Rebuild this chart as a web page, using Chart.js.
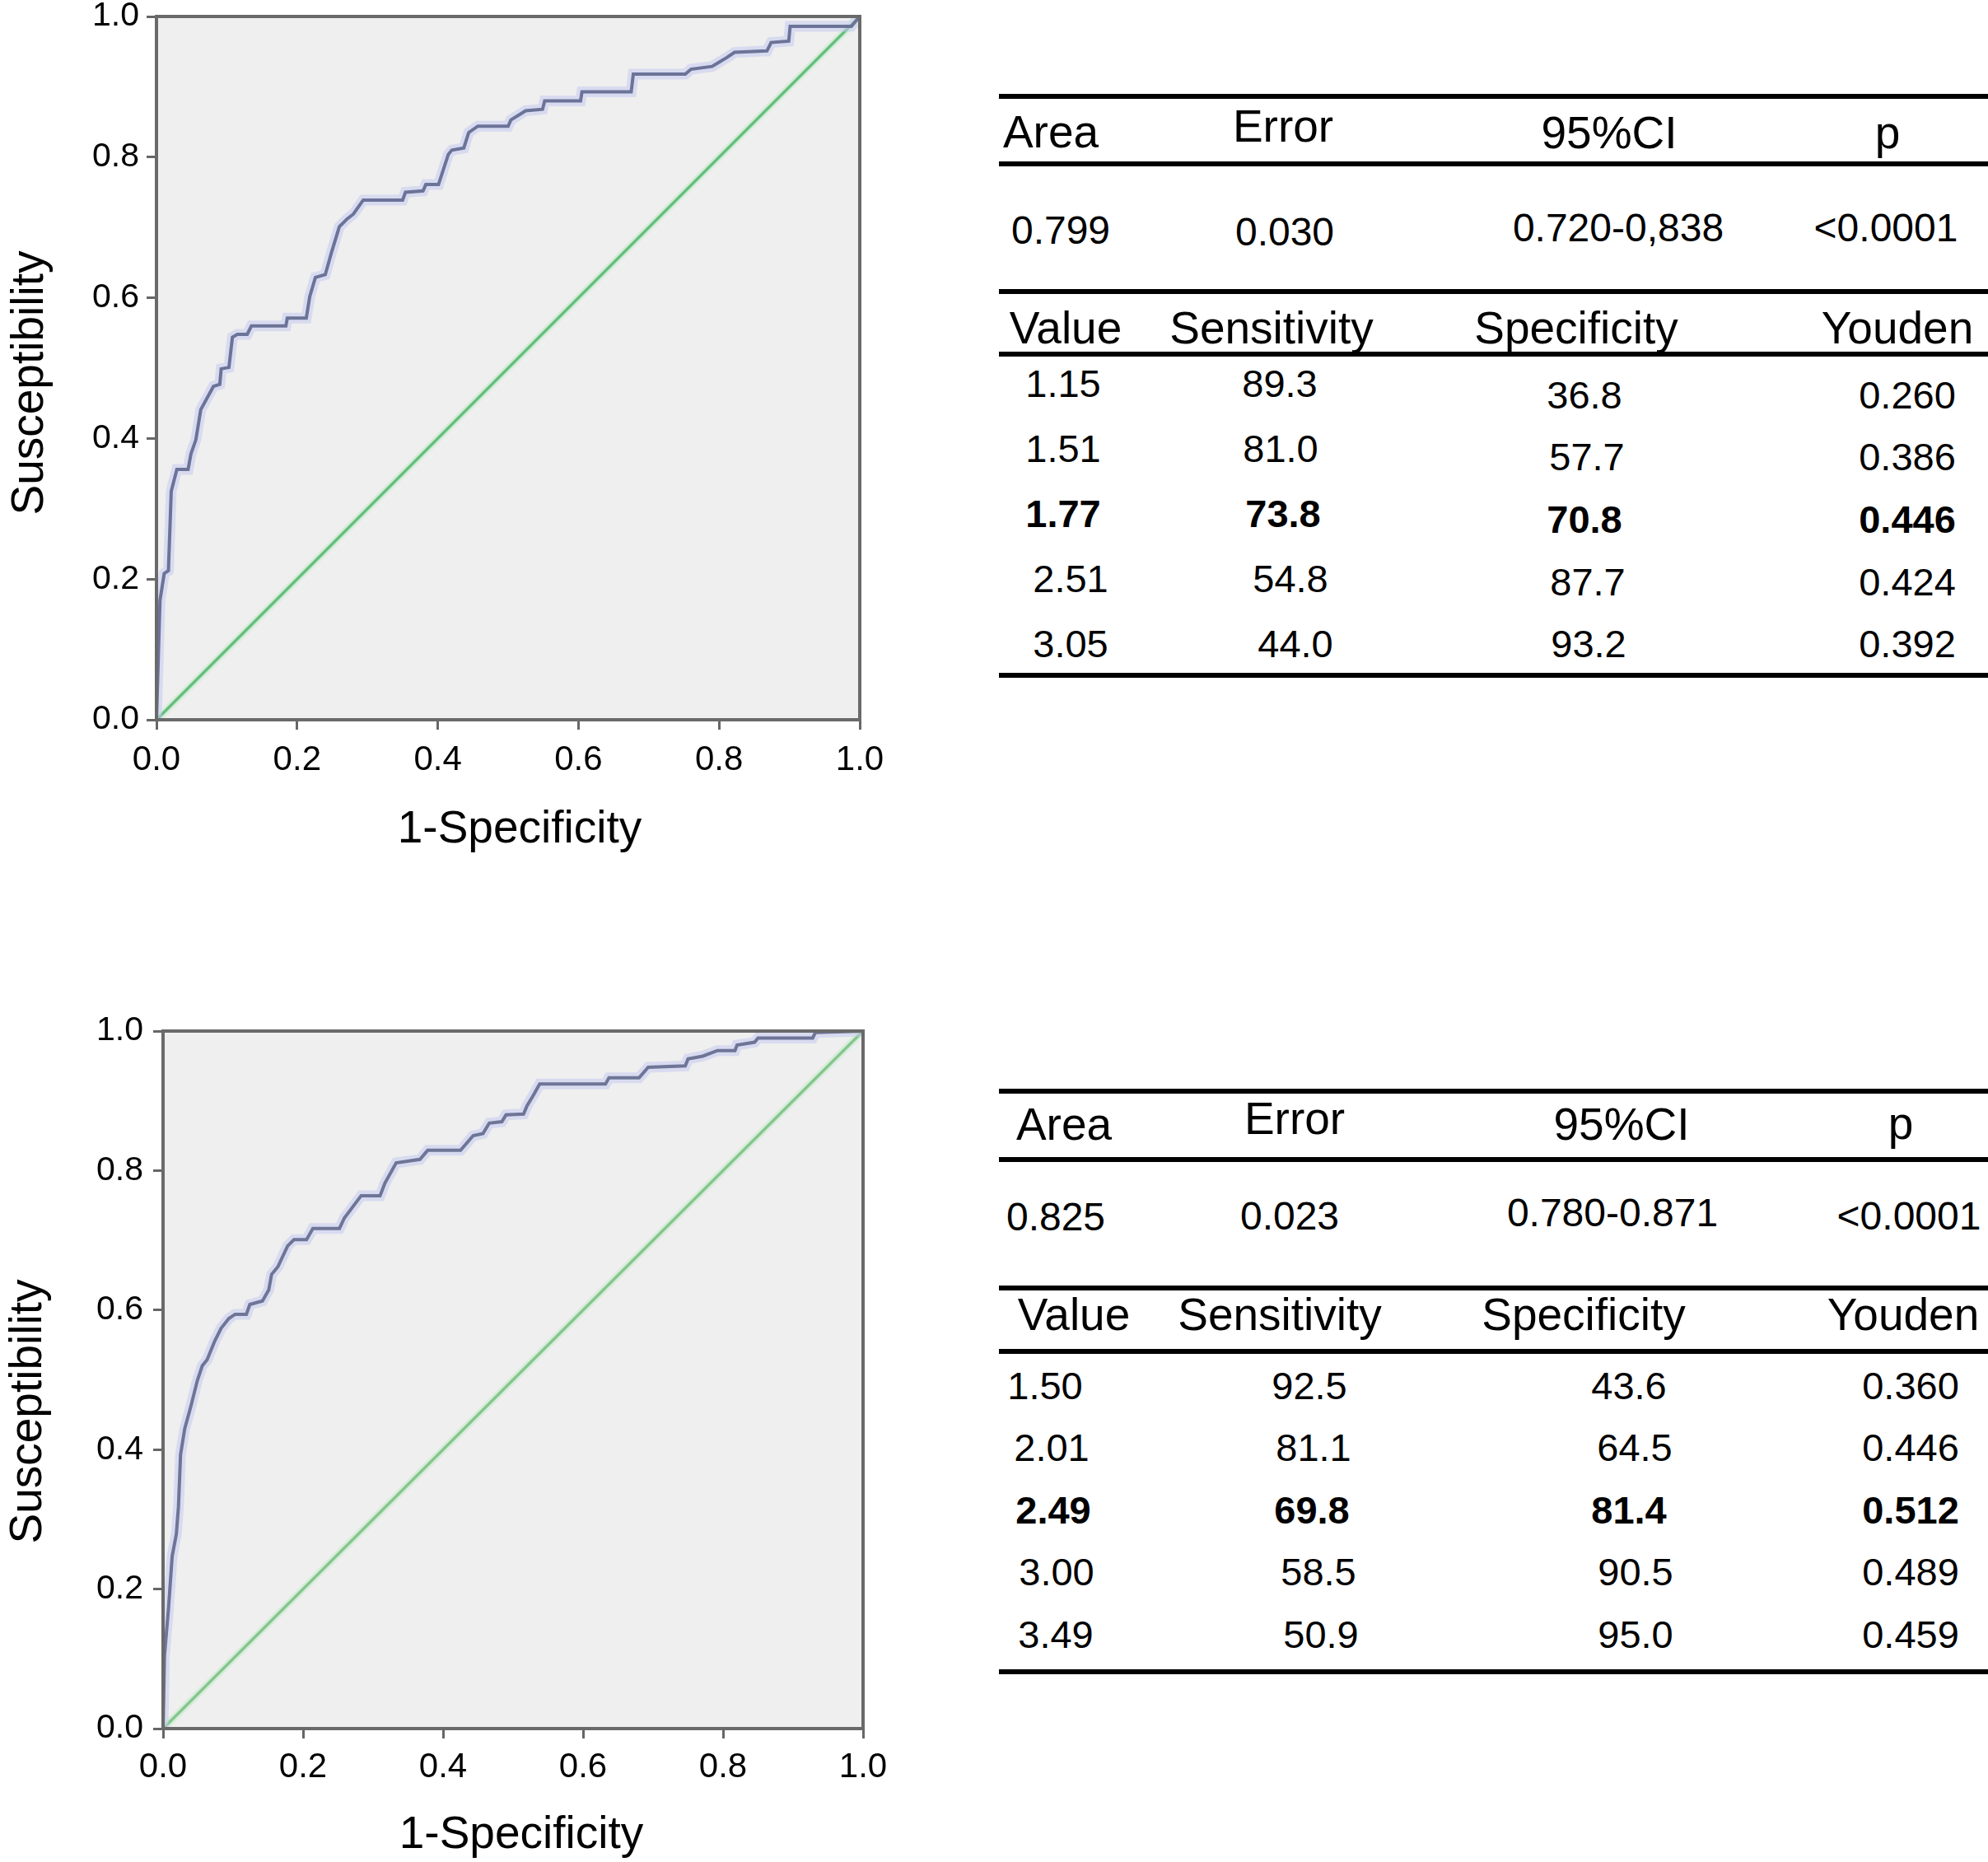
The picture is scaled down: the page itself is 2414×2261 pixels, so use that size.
<!DOCTYPE html>
<html><head><meta charset="utf-8">
<script src="https://cdn.jsdelivr.net/npm/chart.js@4.4.1/dist/chart.umd.min.js"></script>
<style>
html,body{margin:0;padding:0;background:#fff;}
#page{position:relative;width:2414px;height:2261px;overflow:hidden;background:#fff;font-family:"Liberation Sans",Arial,sans-serif;}
#page canvas{position:absolute;left:0;}
.t{position:absolute;white-space:nowrap;line-height:1;color:#000;transform:translateX(-50%);}
.rule{position:absolute;background:#000;height:6px;}
</style></head><body><div id="page">
<canvas id="roc1" width="1120" height="1080" style="top:0px;width:1120px;height:1080px"></canvas>
<canvas id="roc2" width="1120" height="1061" style="top:1200px;width:1120px;height:1061px"></canvas>
</div>
<script>
// ---------- data ----------
const axisTicks = [0, 0.2, 0.4, 0.6, 0.8, 1.0];
const axisTickLabels = ['0.0', '0.2', '0.4', '0.6', '0.8', '1.0'];
const xTitleText = '1-Specificity';
const yTitleText = 'Susceptibility';
const diagX = [0, 1];
const diagY = [0, 1];

const roc1FPR = [0,0.005,0.011,0.017,0.021,0.029,0.045,0.049,0.056,0.063,0.081,0.090,0.092,0.103,0.108,0.115,0.129,0.135,0.184,0.186,0.213,0.218,0.226,0.240,0.249,0.260,0.271,0.280,0.294,0.350,0.354,0.379,0.383,0.401,0.415,0.420,0.437,0.444,0.457,0.500,0.504,0.525,0.549,0.552,0.603,0.605,0.675,0.678,0.752,0.760,0.790,0.800,0.810,0.822,0.868,0.874,0.899,0.901,0.988,1];
const roc1TPR = [0,0.170,0.208,0.212,0.325,0.356,0.356,0.378,0.398,0.441,0.474,0.477,0.499,0.501,0.544,0.548,0.548,0.560,0.560,0.571,0.571,0.602,0.629,0.633,0.665,0.701,0.712,0.719,0.739,0.739,0.750,0.752,0.761,0.761,0.804,0.810,0.813,0.835,0.844,0.844,0.853,0.866,0.868,0.880,0.880,0.893,0.893,0.918,0.918,0.925,0.929,0.935,0.941,0.949,0.951,0.963,0.965,0.986,0.986,1];

const roc2FPR = [0,0.002,0.008,0.013,0.019,0.022,0.025,0.031,0.040,0.049,0.056,0.063,0.074,0.083,0.094,0.103,0.119,0.124,0.142,0.151,0.155,0.164,0.178,0.187,0.205,0.214,0.252,0.259,0.283,0.310,0.317,0.333,0.367,0.378,0.425,0.443,0.457,0.466,0.484,0.490,0.515,0.520,0.529,0.538,0.632,0.637,0.680,0.693,0.746,0.750,0.771,0.792,0.817,0.820,0.845,0.850,0.928,0.932,1];
const roc2TPR = [0,0.104,0.175,0.247,0.279,0.318,0.393,0.430,0.463,0.499,0.520,0.529,0.556,0.574,0.588,0.594,0.594,0.608,0.613,0.629,0.651,0.662,0.692,0.701,0.701,0.717,0.717,0.732,0.764,0.764,0.782,0.811,0.816,0.829,0.829,0.850,0.853,0.868,0.870,0.880,0.881,0.893,0.908,0.924,0.924,0.933,0.933,0.948,0.950,0.960,0.964,0.972,0.972,0.980,0.984,0.990,0.990,0.998,1];

const summaryHeader = ['Area', 'Error', '95%CI', 'p'];
const summary1 = ['0.799', '0.030', '0.720-0,838', '<0.0001'];
const summary2 = ['0.825', '0.023', '0.780-0.871', '<0.0001'];
const cutHeader = ['Value', 'Sensitivity', 'Specificity', 'Youden'];
const cut1Value = ['1.15', '1.51', '1.77', '2.51', '3.05'];
const cut1Sens = ['89.3', '81.0', '73.8', '54.8', '44.0'];
const cut1Spec = ['36.8', '57.7', '70.8', '87.7', '93.2'];
const cut1Youden = ['0.260', '0.386', '0.446', '0.424', '0.392'];
const cut2Value = ['1.50', '2.01', '2.49', '3.00', '3.49'];
const cut2Sens = ['92.5', '81.1', '69.8', '58.5', '50.9'];
const cut2Spec = ['43.6', '64.5', '81.4', '90.5', '95.0'];
const cut2Youden = ['0.360', '0.446', '0.512', '0.489', '0.459'];
const bestRow1 = 2, bestRow2 = 2;

// ---------- charts ----------
const FONT = '"Liberation Sans", Arial, sans-serif';
const pts = (xs, ys) => xs.map((x, i) => ({x: x, y: ys[i]}));

const framePlugin = {
  id: 'frame',
  beforeDraw(c) {
    const a = c.chartArea, ctx = c.ctx;
    ctx.save();
    ctx.fillStyle = '#efefef';
    ctx.fillRect(a.left, a.top, a.right - a.left, a.bottom - a.top);
    ctx.restore();
  },
  afterDraw(c, args, o) {
    const a = c.chartArea, ctx = c.ctx;
    ctx.save();
    ctx.strokeStyle = '#6a6a6a';
    ctx.lineWidth = 4;
    ctx.strokeRect(a.left, a.top, a.right - a.left, a.bottom - a.top);
    ctx.fillStyle = '#000';
    ctx.font = '55px ' + FONT;
    ctx.textAlign = 'center';
    ctx.textBaseline = 'alphabetic';
    ctx.fillText(xTitleText, o.xTitle[0], o.xTitle[1]);
    ctx.translate(o.yTitle[0], o.yTitle[1]);
    ctx.rotate(-Math.PI / 2);
    ctx.fillText(yTitleText, 0, 0);
    ctx.restore();
  }
};

function makeChart(id, fpr, tpr, L) {
  const fit = (dim, val) => s => {
    s[dim] = val;
    s.paddingLeft = 0; s.paddingRight = 0; s.paddingTop = 0; s.paddingBottom = 0;
  };
  const setTicks = s => { s.ticks = axisTicks.map(v => ({value: v})); };
  const gridOpts = {display: true, drawOnChartArea: false, drawTicks: true, tickLength: 12, tickWidth: 3, tickColor: '#666'};
  return new Chart(document.getElementById(id), {
    type: 'scatter',
    data: {
      datasets: [
        {data: pts(fpr, tpr), showLine: true, borderColor: L.curve, borderWidth: 4, pointRadius: 0, tension: 0},
        {data: pts(fpr, tpr), showLine: true, borderColor: 'rgba(196,203,240,0.55)', borderWidth: 13, pointRadius: 0, tension: 0},
        {data: pts(diagX, diagY), showLine: true, borderColor: L.diag, borderWidth: 3.5, pointRadius: 0},
        {data: pts(diagX, diagY), showLine: true, borderColor: 'rgba(200,235,205,0.6)', borderWidth: 9, pointRadius: 0}
      ]
    },
    options: {
      responsive: false,
      animation: false,
      layout: {padding: {top: L.padTop, right: L.padRight, left: 0, bottom: 0}},
      plugins: {legend: {display: false}, tooltip: {enabled: false}, frame: {xTitle: L.xTitle, yTitle: L.yTitle}},
      scales: {
        x: {
          type: 'linear', position: 'bottom', min: 0, max: 1,
          afterBuildTicks: setTicks,
          afterFit: fit('height', L.xHeight),
          ticks: {callback: (v, i) => axisTickLabels[i], font: {family: FONT, size: 42}, color: '#000', padding: L.xTickPad, maxRotation: 0, autoSkip: false},
          grid: gridOpts,
          border: {display: true, color: '#6a6a6a', width: 4}
        },
        y: {
          type: 'linear', position: 'left', min: 0, max: 1,
          afterBuildTicks: setTicks,
          afterFit: fit('width', L.yWidth),
          ticks: {callback: (v, i) => axisTickLabels[i], font: {family: FONT, size: 41}, color: '#000', padding: L.yTickPad, autoSkip: false},
          grid: gridOpts,
          border: {display: true, color: '#6a6a6a', width: 4}
        }
      }
    },
    plugins: [framePlugin]
  });
}

makeChart('roc1', roc1FPR, roc1TPR, {
  padTop: 20, padRight: 76, yWidth: 190, xHeight: 206, xTickPad: 12, yTickPad: 9,
  xTitle: [631, 1023], yTitle: [52, 465], curve: '#6b7398', diag: '#66bf7e'
});
makeChart('roc2', roc2FPR, roc2TPR, {
  padTop: 52, padRight: 72, yWidth: 198, xHeight: 162, xTickPad: 10, yTickPad: 12,
  xTitle: [633, 1044], yTitle: [50, 514], curve: '#6e7597', diag: '#86c68e'
});

// ---------- tables ----------
const page = document.getElementById('page');
function txt(s, cx, base, size, bold) {
  const d = document.createElement('div');
  d.className = 't';
  d.textContent = s;
  d.style.fontSize = size + 'px';
  d.style.left = cx + 'px';
  d.style.top = (base - 0.8465 * size) + 'px';
  if (bold) d.style.fontWeight = 'bold';
  page.appendChild(d);
}
function rule(y, x0, x1) {
  const d = document.createElement('div');
  d.className = 'rule';
  d.style.left = x0 + 'px';
  d.style.width = (x1 - x0) + 'px';
  d.style.top = (y - 3) + 'px';
  page.appendChild(d);
}
function table(T) {
  T.lines.forEach(y => rule(y, 1213, 2414));
  summaryHeader.forEach((s, i) => txt(s, T.hCx[i], T.hBase[i], 55, false));
  T.summary.forEach((s, i) => txt(s, T.sCx[i], T.sBase[i], 48, false));
  cutHeader.forEach((s, i) => txt(s, T.cCx[i], T.cBase, 55, false));
  T.cols.forEach((col, c) => {
    col.forEach((s, r) => txt(s, T.colCx[c][r], T.rowBase[c][r], 47, r === T.best));
  });
}
table({
  lines: [117, 199, 354, 430, 820],
  hCx: [1276, 1558, 1954, 2292], hBase: [180, 173, 181, 181],
  summary: summary1, sCx: [1288, 1560, 1965, 2290], sBase: [297, 299, 294, 294],
  cCx: [1294, 1544, 1914, 2304], cBase: 418,
  cols: [cut1Value, cut1Sens, cut1Spec, cut1Youden],
  colCx: [[1291,1291,1291,1300,1300],[1554,1555,1558,1567,1573],[1924,1927,1924,1928,1929],[2316,2316,2316,2316,2316]],
  rowBase: [[482,561,640,719,798],[482,561,640,719,798],[496,571,647,723,798],[496,571,647,723,798]],
  best: bestRow1
});
table({
  lines: [1325, 1408, 1564, 1641, 2030],
  hCx: [1292, 1572, 1969, 2308], hBase: [1385, 1378, 1385, 1384],
  summary: summary2, sCx: [1282, 1566, 1958, 2318], sBase: [1495, 1494, 1490, 1494],
  cCx: [1304, 1554, 1923, 2311], cBase: 1616,
  cols: [cut2Value, cut2Sens, cut2Spec, cut2Youden],
  colCx: [[1269,1277,1279,1283,1282],[1590,1595,1593,1601,1604],[1978,1985,1978,1986,1986],[2320,2320,2320,2320,2320]],
  rowBase: [[1699,1774,1850,1925,2001],[1699,1774,1850,1925,2001],[1699,1774,1850,1925,2001],[1699,1774,1850,1925,2001]],
  best: bestRow2
});
</script>
</body></html>
